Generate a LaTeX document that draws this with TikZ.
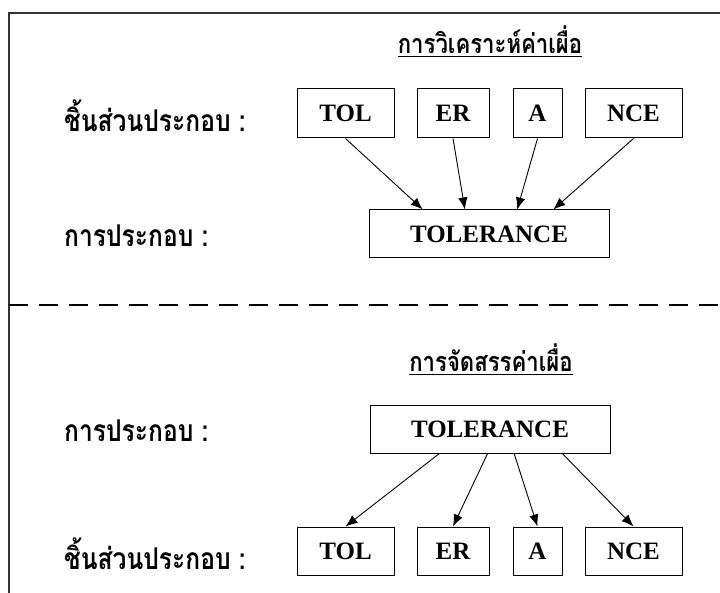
\documentclass[tikz,border=0pt]{standalone}
\usepackage{fontspec}
\setmainfont{Liberation Serif}
\newfontfamily\thaifont[Script=Thai,FakeStretch=0.82]{Loma}
\usetikzlibrary{arrows.meta,calc}
\begin{document}
\begin{tikzpicture}[x=1pt,y=-1pt,
  box/.style={draw, line width=1pt, inner sep=0pt, minimum height=49pt,
              font=\fontsize{25}{29}\selectfont\bfseries},
  lbl/.style={anchor=west, inner sep=0pt, font=\thaifont\bfseries\fontsize{30}{34}\selectfont},
  ttl/.style={inner sep=0pt, font=\thaifont\bfseries\fontsize{27}{31}\selectfont},
  arr/.style={line width=0.9pt, -{Latex[length=12pt,width=9.5pt]}},
  frame/.style={line width=1.2pt, draw=black!80}]
\useasboundingbox (0,0) rectangle (720,593);
% frame
\draw[frame] (720,13) -- (9,13) -- (9,593);
\draw[line width=1.6pt, dash pattern=on 19pt off 11pt] (9,305) -- (720,305);

% upper part
\node[ttl] (t1) at (490,40) {การวิเคราะห์ค่าเผื่อ};
\draw[line width=0.9pt] ($(t1.south west)+(0,2)$) -- ($(t1.south east)+(0,2)$);
\node[lbl] (l1) at (64,116) {ชิ้นส่วนประกอบ :};
\node[lbl] (l2) at (64,236) {การประกอบ :};
\node[box, minimum width=97pt] (a1) at (345.5,113.5) {TOL};
\node[box, minimum width=72pt] (a2) at (453,113.5) {ER};
\node[box, minimum width=49pt] (a3) at (537.5,113.5) {A};
\node[box, minimum width=97pt] (a4) at (633.5,113.5) {NCE};
\node[box, minimum width=240pt, minimum height=48pt] (T1) at (489,234) {TOLERANCE};
\draw[arr] (a1.south) -- ($(T1.north west)!0.225!(T1.north east)$);
\draw[arr] (a2.south) -- ($(T1.north west)!0.40!(T1.north east)$);
\draw[arr] (a3.south) -- ($(T1.north west)!0.617!(T1.north east)$);
\draw[arr] (a4.south) -- ($(T1.north west)!0.767!(T1.north east)$);

% lower part
\node[ttl] (t2) at (491,358) {การจัดสรรค่าเผื่อ};
\draw[line width=0.9pt] ($(t2.south west)+(0,2)$) -- ($(t2.south east)+(0,2)$);
\node[lbl] (l3) at (64,431) {การประกอบ :};
\node[lbl] (l4) at (64,554) {ชิ้นส่วนประกอบ :};
\node[box, minimum width=240pt, minimum height=48pt] (T2) at (490,429) {TOLERANCE};
\node[box, minimum width=97pt, minimum height=48pt] (b1) at (345.5,551) {TOL};
\node[box, minimum width=72pt, minimum height=48pt] (b2) at (453,551) {ER};
\node[box, minimum width=49pt, minimum height=48pt] (b3) at (537.5,551) {A};
\node[box, minimum width=97pt, minimum height=48pt] (b4) at (633.5,551) {NCE};
\draw[arr] ($(T2.south west)!0.29!(T2.south east)$) -- (b1.north);
\draw[arr] ($(T2.south west)!0.49!(T2.south east)$) -- (b2.north);
\draw[arr] ($(T2.south west)!0.60!(T2.south east)$) -- (b3.north);
\draw[arr] ($(T2.south west)!0.80!(T2.south east)$) -- (b4.north);
\end{tikzpicture}
\end{document}
